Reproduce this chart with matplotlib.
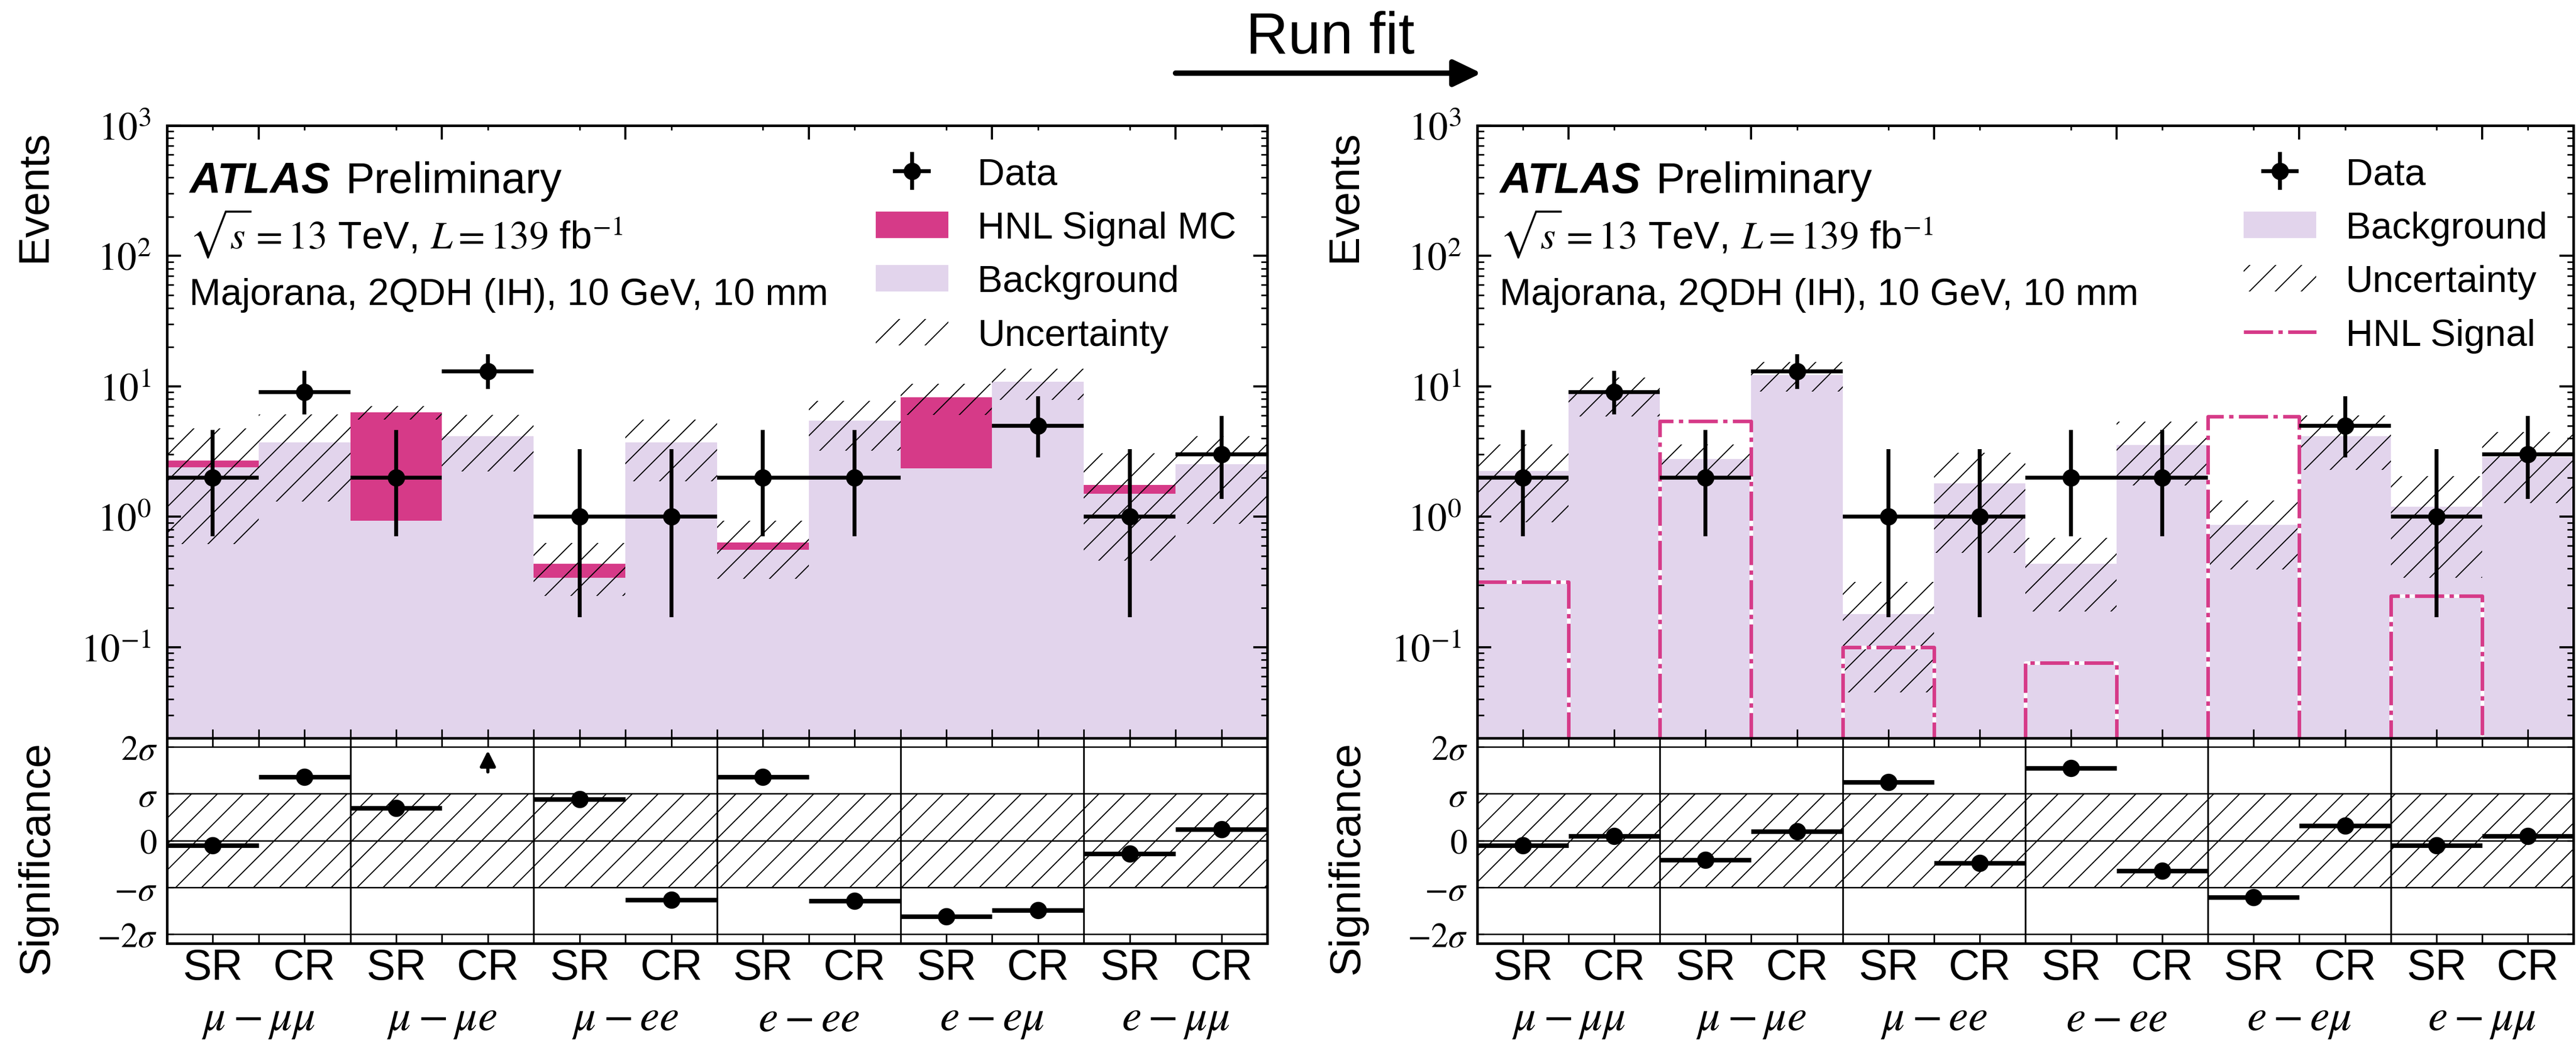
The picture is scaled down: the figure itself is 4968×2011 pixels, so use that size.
import numpy as np
import matplotlib
matplotlib.use("Agg")
import matplotlib.pyplot as plt
from matplotlib.patches import Patch
from matplotlib.lines import Line2D
from matplotlib.ticker import FuncFormatter, NullFormatter

plt.rcParams['font.family'] = ['Liberation Sans', 'DejaVu Sans']
plt.rcParams['mathtext.fontset'] = 'stix'
plt.rcParams['hatch.linewidth'] = 1.0
plt.rcParams['lines.scale_dashes'] = False

# bins: SR/CR for each channel
regions = ['SR', 'CR'] * 6
channels = [r'$\mu-\mu\mu$', r'$\mu-\mu e$', r'$\mu-ee$',
            r'$e-ee$', r'$e-e\mu$', r'$e-\mu\mu$']

data = np.array([2, 9, 2, 13, 1, 1, 2, 2, 0, 5, 1, 3])
data_err_lo = np.array([1.29, 2.9, 1.29, 3.5, 0.83, 0.83, 1.29, 1.29, 0.0, 2.16, 0.83, 1.63])
data_err_hi = np.array([2.64, 4.2, 2.64, 4.7, 2.3, 2.3, 2.64, 2.64, 0.0, 3.38, 2.3, 2.92])

# before fit
pre_bkg = np.array([2.40, 3.71, 0.934, 4.13, 0.342, 3.71, 0.558, 5.47, 2.35, 10.8, 1.50, 2.52])
pre_sig = np.array([0.29, 0, 5.4, 0, 0.094, 0, 0.076, 0, 5.88, 0, 0.26, 0])
pre_unc = np.array([2.07, 2.4, 0.75, 1.9, 0.19, 1.84, 0.30, 2.27, 2.2, 2.9, 1.3, 1.64])
pre_signif = np.array([-0.10, 1.36, 0.69, 2.9, 0.88, -1.27, 1.36, -1.29, -1.62, -1.49, -0.28, 0.24])

# after fit
post_bkg = np.array([2.25, 8.77, 2.77, 12.2, 0.18, 1.81, 0.437, 3.54, 0.865, 4.13, 1.19, 2.87])
post_sig = np.array([0.315, 0, 5.39, 0, 0.10, 0, 0.076, 0, 5.86, 0, 0.247, 0])
post_unc = np.array([1.34, 2.9, 0.8, 3.1, 0.135, 1.28, 0.25, 1.8, 0.47, 1.85, 0.85, 1.6])
post_signif = np.array([-0.11, 0.09, -0.41, 0.19, 1.25, -0.48, 1.55, -0.65, -1.21, 0.32, -0.11, 0.10])

bkg_color = '#e2d4ec'
sig_color = '#d63a88'
sig_dash = (0, (27, 5, 4, 5))

nbins = len(regions)
edges = np.arange(nbins + 1)
centers = edges[:-1] + 0.5
odd_edges = np.arange(1, nbins, 2)
even_edges = np.arange(2, nbins, 2)
ymin, ymax = 0.0201, 1000
rmin, rmax = -2.2, 2.19

fig = plt.figure(figsize=(33.12, 13.4133), dpi=150)


def draw_main(ax, bkg, sig, unc, prefit):
    ax.set_yscale('log')
    ax.bar(centers, bkg, width=1.0, color=bkg_color, linewidth=0, zorder=1)
    if prefit:
        ax.bar(centers, sig, width=1.0, bottom=bkg, color=sig_color, linewidth=0, zorder=1.1)
        total = bkg + sig
    else:
        total = bkg
        sx = np.repeat(edges, 2)[1:-1]
        sy = np.repeat(np.where(sig > 0, sig, 1e-4), 2)
        ax.plot(sx, sy, color=sig_color, lw=3.3, ls=sig_dash, gapcolor='white', zorder=2)
    ax.bar(centers, 2 * unc, width=1.0, bottom=total - unc, facecolor='none',
           edgecolor='k', hatch='/', linewidth=0, zorder=1.5)
    m = data > 0
    eb = ax.errorbar(centers[m], data[m], xerr=0.5, yerr=[data_err_lo[m], data_err_hi[m]],
                     fmt='o', color='k', ms=15, elinewidth=3.6, capsize=0, zorder=3)
    ax.set_xlim(0, nbins)
    ax.set_ylim(ymin, ymax)

    ax.set_xticks(odd_edges)
    ax.set_xticks(np.concatenate([centers, even_edges]), minor=True)
    ax.tick_params(axis='x', which='both', bottom=True, top=False, direction='in',
                   length=8, width=1.5, labelbottom=False)
    top = ax.secondary_xaxis('top')
    top.set_xticks(odd_edges)
    top.set_xticks(centers, minor=True)
    top.tick_params(which='major', direction='in', length=13, width=2, labeltop=False)
    top.tick_params(which='minor', direction='in', length=4.5, width=1.5)
    top.spines['top'].set_linewidth(2.4)

    ax.yaxis.set_major_formatter(FuncFormatter(lambda v, p: r'$10^{%d}$' % round(np.log10(v))))
    ax.yaxis.set_minor_formatter(NullFormatter())
    ax.tick_params(axis='y', which='major', left=True, right=True, direction='in',
                   length=13, width=2, labelsize=36, pad=15)
    ax.tick_params(axis='y', which='minor', left=True, right=True, direction='in',
                   length=6, width=1.5)
    for s in ax.spines.values():
        s.set_linewidth(2.4)

    ax.text(0.0205, 0.876, 'ATLAS', transform=ax.transAxes, fontsize=40,
            fontweight='bold', fontstyle='italic', va='bottom')
    ax.annotate('Preliminary', xy=(1, 0), xycoords=ax.texts[-1], xytext=(14, 0),
                textcoords='offset points', fontsize=40, va='bottom')
    ax.text(0.0205, 0.800, r'$\sqrt{s} = 13$ TeV, $L = 139$ fb$^{-1}$',
            transform=ax.transAxes, fontsize=36, va='baseline')
    ax.text(0.0205, 0.708, 'Majorana, 2QDH (IH), 10 GeV, 10 mm',
            transform=ax.transAxes, fontsize=35, va='baseline')
    return eb


def draw_ratio(ax, signif):
    ax.fill_between([0, nbins], -1, 1, facecolor='none', edgecolor='k', hatch='/',
                    linewidth=0, zorder=1)
    for yv in [-2, -1, 0, 1, 2]:
        ax.axhline(yv, color='k', lw=1.3, zorder=1.5)
    for xv in even_edges:
        ax.axvline(xv, color='k', lw=1.6, zorder=1.5)
    inside = signif < rmax
    ax.errorbar(centers[inside], signif[inside], xerr=0.5, fmt='o', color='k',
                ms=15, elinewidth=4.2, capsize=0, zorder=3)
    for xc in centers[~inside]:
        ax.annotate('', xy=(xc, 1.97), xytext=(xc, 1.42),
                    arrowprops=dict(arrowstyle='-|>,head_length=0.6,head_width=0.3',
                                    color='k', lw=3, mutation_scale=20))
    ax.set_xlim(0, nbins)
    ax.set_ylim(rmin, rmax)
    ax.set_xticks(odd_edges, channels)
    ax.set_xticks(centers, regions, minor=True)
    ax.tick_params(axis='x', which='both', top=True, bottom=True, direction='in',
                   length=8, width=1.5, labelsize=40)
    ax.tick_params(axis='x', which='minor', pad=4)
    ax.tick_params(axis='x', which='major', pad=51, labelsize=41)
    ax.set_yticks([-2, -1, 0, 1, 2],
                  [r'$-2\sigma$', r'$-\sigma$', r'$0$', r'$\sigma$', r'$2\sigma$'])
    ax.tick_params(axis='y', left=True, right=True, direction='in', length=6,
                   width=1.5, labelsize=32, pad=9)
    for s in ax.spines.values():
        s.set_linewidth(2.4)


main_y0, main_h = 0.29225, 0.58698
rat_y0, rat_h = 0.09543, 0.19682
panels = [(0.06481, 0.42713, pre_bkg, pre_sig, pre_unc, pre_signif, True),
          (0.57347, 0.42552, post_bkg, post_sig, post_unc, post_signif, False)]

for x0, w, bkg, sig, unc, signif, prefit in panels:
    ax = fig.add_axes([x0, main_y0, w, main_h])
    rax = fig.add_axes([x0, rat_y0, w, rat_h])
    eb = draw_main(ax, bkg, sig, unc, prefit)
    draw_ratio(rax, signif)

    bkg_h = Patch(facecolor=bkg_color, linewidth=0)
    unc_h = Patch(facecolor='none', edgecolor='k', hatch='/', linewidth=0)
    if prefit:
        handles = [eb, Patch(facecolor=sig_color, linewidth=0), bkg_h, unc_h]
        labels = ['Data', 'HNL Signal MC', 'Background', 'Uncertainty']
        lx = 0.644
    else:
        sig_h = Line2D([], [], color=sig_color, lw=3.3, ls=sig_dash)
        handles = [eb, bkg_h, unc_h, sig_h]
        labels = ['Data', 'Background', 'Uncertainty', 'HNL Signal']
        lx = 0.699
    ax.legend(handles, labels, loc='upper left', bbox_to_anchor=(lx, 0.948),
              frameon=False, borderaxespad=0, borderpad=0, fontsize=35,
              handlelength=1.93, handletextpad=0.77, labelspacing=0.5)

    lab_x = (x0 * 4968 - 256) / 4968
    fig.text(lab_x, 1 - 251 / 2012, 'Events', rotation=90, ha='center', va='top', fontsize=40)
    fig.text(lab_x + 0.001, 1 - 1430 / 2012, 'Significance', rotation=90, ha='center',
             va='top', fontsize=40)

fig.text(0.5165, 0.949, 'Run fit', ha='center', va='baseline', fontsize=54)
fig.add_artist(matplotlib.patches.FancyArrowPatch(
    (0.4555, 0.9294), (0.5759, 0.9294), transform=fig.transFigure,
    arrowstyle='-|>,head_length=1.08,head_width=0.52', mutation_scale=20,
    color='k', lw=5))

fig.savefig('out.png', dpi=150)
